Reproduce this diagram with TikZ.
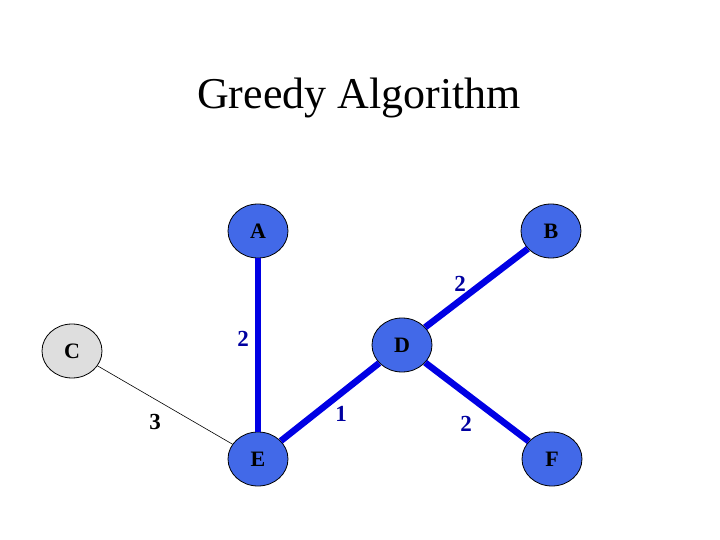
\documentclass[tikz,border=0pt]{standalone}
\usepackage{fontspec}
\setmainfont{Liberation Serif}
\usetikzlibrary{shapes.geometric}
\definecolor{nodeblue}{RGB}{66,105,232}
\definecolor{edgeblue}{RGB}{0,0,228}
\definecolor{labblue}{RGB}{0,0,160}
\definecolor{nodegray}{RGB}{222,222,222}
\begin{document}
\begin{tikzpicture}[x=1pt,y=-1pt,
  vert/.style={ellipse,draw=black,line width=0.8pt,fill=nodeblue,minimum width=60pt,minimum height=54pt,inner sep=0pt,font=\fontsize{22}{22}\selectfont\bfseries},
  grayvert/.style={vert,fill=nodegray},
  chosen/.style={draw=edgeblue,line width=6.5pt},
  plain/.style={draw=black,line width=0.6pt},
  wlab/.style={font=\fontsize{23}{23}\selectfont\bfseries,text=labblue},
  blab/.style={font=\fontsize{23}{23}\selectfont\bfseries,text=black}]
\useasboundingbox (0,0) rectangle (720,540);
\node[anchor=base] (title) at (359,109) {\fontsize{44}{44}\selectfont Greedy Algorithm};
\node[vert] (A) at (258,231) {A};
\node[vert] (B) at (551,231) {B};
\node[grayvert] (C) at (72,351) {C};
\node[vert] (D) at (402,345) {D};
\node[vert] (E) at (258,459) {E};
\node[vert] (F) at (552,459) {F};
\draw[chosen] (A) -- (E);
\draw[chosen] (B) -- (D);
\draw[chosen] (D) -- (E);
\draw[chosen] (D) -- (F);
\draw[plain] (C) -- (E);
\node[wlab] (l1) at (460,284) {2};
\node[wlab] (l2) at (243,339) {2};
\node[wlab] (l3) at (341,414) {1};
\node[wlab] (l4) at (466,424) {2};
\node[blab] (l5) at (155,422) {3};
\end{tikzpicture}
\end{document}
